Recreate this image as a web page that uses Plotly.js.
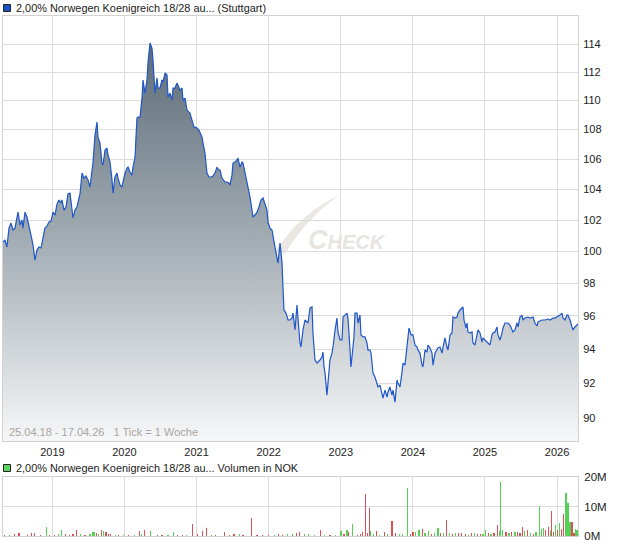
<!DOCTYPE html>
<html>
<head>
<meta charset="utf-8">
<script src="https://cdn.plot.ly/plotly-3.0.1.min.js"></script>
<style>html,body{margin:0;padding:0;background:#fff}#chart{width:620px;height:546px}</style>
</head>
<body>
<div id="chart"></div>
<script>
// ---- Data (decimal years) ----
const priceT = [2018.315,2018.343,2018.370,2018.398,2018.426,2018.454,2018.481,2018.509,2018.523,2018.551,2018.578,2018.592,2018.620,2018.648,2018.675,2018.689,2018.717,2018.731,2018.759,2018.786,2018.814,2018.842,2018.870,2018.897,2018.925,2018.953,2018.981,
2019.008,2019.036,2019.064,2019.092,2019.119,2019.133,2019.161,2019.189,2019.216,2019.244,2019.272,2019.286,2019.313,2019.341,2019.369,2019.383,2019.411,2019.438,2019.466,2019.494,2019.521,2019.549,2019.563,2019.591,2019.619,2019.632,2019.660,2019.688,2019.702,2019.730,2019.757,2019.771,2019.799,2019.827,2019.841,2019.868,2019.896,2019.910,2019.938,2019.965,2019.993,
2020.007,2020.035,2020.049,2020.076,2020.104,2020.118,2020.146,2020.173,2020.187,2020.215,2020.243,2020.257,2020.284,2020.312,2020.326,2020.354,2020.381,2020.395,2020.423,2020.451,2020.465,2020.492,2020.520,2020.534,2020.562,2020.590,2020.603,2020.631,2020.659,2020.673,2020.700,2020.728,2020.742,2020.770,2020.798,2020.811,2020.839,2020.867,2020.895,2020.908,2020.936,2020.964,2020.978,
2021.006,2021.033,2021.047,2021.075,2021.089,2021.116,2021.144,2021.172,2021.200,2021.227,2021.255,2021.283,2021.297,2021.325,2021.352,2021.380,2021.394,2021.422,2021.449,2021.463,2021.491,2021.505,2021.533,2021.560,2021.574,2021.602,2021.630,2021.644,2021.671,2021.699,2021.713,2021.741,2021.768,2021.782,2021.810,2021.838,2021.865,2021.893,2021.921,2021.949,2021.976,2021.990,
2022.018,2022.046,2022.060,2022.087,2022.115,2022.129,2022.157,2022.184,2022.198,2022.212,2022.240,2022.268,2022.295,2022.323,2022.337,2022.365,2022.392,2022.406,2022.434,2022.448,2022.476,2022.503,2022.531,2022.545,2022.573,2022.601,2022.614,2022.642,2022.670,2022.684,2022.711,2022.739,2022.753,2022.767,2022.781,2022.808,2022.822,2022.850,2022.878,2022.892,2022.920,2022.947,2022.961,2022.989,
2023.017,2023.031,2023.058,2023.086,2023.100,2023.114,2023.128,2023.141,2023.169,2023.183,2023.197,2023.225,2023.239,2023.252,2023.266,2023.280,2023.308,2023.336,2023.363,2023.377,2023.405,2023.419,2023.433,2023.447,2023.474,2023.502,2023.516,2023.544,2023.571,2023.585,2023.613,2023.641,2023.655,2023.682,2023.710,2023.724,2023.752,2023.780,2023.793,2023.821,2023.849,2023.863,2023.890,2023.918,2023.932,2023.946,2023.974,
2024.001,2024.029,2024.057,2024.071,2024.098,2024.126,2024.140,2024.168,2024.196,2024.210,2024.237,2024.265,2024.279,2024.307,2024.334,2024.348,2024.376,2024.404,2024.418,2024.445,2024.473,2024.487,2024.515,2024.542,2024.556,2024.584,2024.612,2024.626,2024.653,2024.681,2024.695,2024.709,2024.736,2024.750,2024.764,2024.792,2024.820,2024.834,2024.861,2024.889,2024.903,2024.931,2024.958,2024.972,
2025.000,2025.028,2025.042,2025.069,2025.097,2025.111,2025.139,2025.166,2025.180,2025.208,2025.236,2025.250,2025.277,2025.305,2025.319,2025.347,2025.375,2025.388,2025.416,2025.444,2025.458,2025.485,2025.513,2025.527,2025.555,2025.582,2025.596,2025.624,2025.666,2025.693,2025.721,2025.735,2025.763,2025.790,2025.832,2025.874,2025.902,2025.943,2025.971,2025.999,
2026.040,2026.068,2026.082,2026.110,2026.137,2026.151,2026.179,2026.207,2026.221,2026.248,2026.276,2026.290];

const price = [100.59,100.72,100.27,101.48,101.80,101.36,101.48,102.32,102.51,101.68,102.00,101.48,102.51,102.19,101.68,101.36,100.72,100.40,99.45,100.08,100.27,100.21,100.84,101.48,101.61,101.87,101.93,
102.51,102.32,103.03,103.30,103.10,103.30,102.64,102.84,103.69,103.75,102.45,102.13,102.64,102.84,103.43,103.69,105.07,104.74,104.87,104.61,104.15,105.14,105.74,107.63,108.52,107.49,107.08,105.74,105.61,106.61,106.75,106.28,105.81,104.61,103.75,104.81,105.07,104.74,104.28,104.15,104.74,
105.07,105.41,105.47,105.14,104.94,105.47,106.14,108.79,108.86,108.86,110.17,111.44,110.52,111.44,112.64,114.07,113.71,112.85,110.52,111.58,110.87,110.87,111.44,111.29,111.93,111.79,110.24,110.52,110.04,110.87,110.87,111.22,111.08,110.73,110.87,110.04,110.17,109.34,109.20,109.14,108.65,108.17,108.17,
108.11,107.97,107.76,107.49,107.08,106.41,105.07,104.81,104.81,104.87,105.07,105.47,105.34,105.27,104.74,104.61,104.48,104.48,104.41,104.28,104.94,105.74,105.81,105.94,106.07,105.47,105.81,105.74,105.14,104.48,104.15,103.49,102.64,102.19,102.32,102.51,102.84,103.30,103.43,102.97,102.64,101.87,
101.48,101.36,100.91,100.27,99.58,99.26,100.53,99.32,97.77,96.36,96.17,95.75,95.75,95.87,96.17,95.15,96.66,95.75,94.37,94.13,95.15,95.75,95.63,95.57,96.48,96.54,94.97,93.36,93.18,93.24,93.36,93.54,93.83,92.95,92.59,91.31,92.18,93.36,93.77,94.13,95.15,95.87,95.03,94.55,
94.55,95.93,96.05,96.17,95.87,94.37,93.95,92.95,94.13,94.73,96.17,96.17,95.57,95.75,96.05,94.85,94.73,94.73,94.37,93.95,93.95,93.77,92.95,92.59,92.36,92.01,91.78,91.89,91.43,91.14,91.60,91.20,91.49,91.78,91.31,91.60,90.91,92.18,92.01,91.78,92.65,93.18,93.06,94.13,94.67,95.27,94.85,
94.85,94.25,94.13,93.95,93.77,93.06,92.95,93.95,93.83,94.25,94.07,93.77,93.06,93.77,93.95,94.07,94.13,93.77,94.13,94.67,94.13,93.95,94.85,94.97,95.93,95.87,95.93,96.17,96.36,96.48,96.54,95.75,95.27,95.57,95.03,94.97,95.03,94.37,94.25,94.85,95.15,94.97,94.43,94.67,
94.55,94.37,94.37,94.25,94.85,94.97,95.03,95.33,94.85,94.55,94.97,95.27,95.57,95.57,95.57,95.45,95.15,95.03,95.15,95.57,95.33,95.93,96.05,95.75,95.87,95.93,95.93,95.87,95.93,95.57,95.39,95.63,95.69,95.75,95.75,95.81,95.75,95.87,95.87,95.93,
96.05,96.17,95.87,95.75,96.05,96.05,95.75,95.33,95.15,95.33,95.45,95.51];

const volT = [2018.339,2018.410,2018.476,2018.536,2018.657,2018.712,2018.756,2018.838,2018.920,2018.958,2019.030,2019.085,2019.123,2019.178,2019.233,2019.287,2019.331,2019.386,2019.452,2019.523,2019.562,2019.589,2019.616,2019.644,2019.682,2019.710,2019.742,2019.781,2019.808,2019.874,2019.918,2019.984,
2020.055,2020.137,2020.203,2020.236,2020.274,2020.356,2020.455,2020.521,2020.603,2020.685,2020.740,2020.806,2020.861,2020.943,2021.014,2021.080,2021.135,2021.206,2021.261,2021.387,2021.453,2021.519,2021.590,2021.645,2021.760,2021.837,2021.919,
2022.001,2022.083,2022.138,2022.193,2022.264,2022.330,2022.385,2022.429,2022.494,2022.549,2022.631,2022.714,2022.779,2022.851,2022.922,2023.004,2023.043,2023.086,2023.103,2023.163,2023.234,2023.273,2023.300,2023.339,2023.366,2023.393,2023.410,2023.454,2023.492,2023.536,2023.602,2023.646,2023.711,2023.755,2023.810,2023.854,2023.920,2023.964,
2024.002,2024.041,2024.084,2024.128,2024.167,2024.221,2024.260,2024.304,2024.347,2024.386,2024.424,2024.468,2024.512,2024.550,2024.589,2024.632,2024.676,2024.731,2024.769,2024.808,2024.852,2024.896,2024.934,2024.972,
2025.005,2025.044,2025.082,2025.126,2025.170,2025.197,2025.213,2025.246,2025.290,2025.334,2025.372,2025.416,2025.455,2025.487,2025.520,2025.553,2025.592,2025.630,2025.674,2025.707,2025.756,2025.784,2025.811,2025.838,2025.877,2025.904,2025.921,2025.948,2025.975,
2026.003,2026.030,2026.058,2026.085,2026.124,2026.151,2026.178,2026.206,2026.233,2026.250,2026.277];

// volume in millions NOK
const volM = [0.3,0.3,0.8,1.0,0.5,1.0,1.0,0.5,3.0,0.4,0.5,0.8,2.0,0.6,0.5,0.7,2.0,0.8,0.4,0.8,1.2,1.5,1.0,0.8,2.0,1.8,1.5,0.8,0.6,0.5,0.5,0.3,
0.4,0.4,1.6,0.6,2.0,1.7,0.4,0.3,0.3,1.2,0.5,0.5,0.4,4.1,0.8,1.8,2.7,0.4,0.5,1.2,0.4,0.8,0.7,0.5,6.1,0.4,0.3,
0.4,0.5,0.8,0.5,0.8,0.6,1.1,1.2,0.7,0.7,0.5,2.0,0.4,0.4,0.5,1.7,0.6,2.0,1.4,4.1,0.4,0.6,1.5,14.3,1.0,9.4,1.8,0.7,1.8,0.5,1.3,0.8,5.1,0.9,0.6,0.7,16.4,0.8,
1.5,1.2,2.0,2.3,1.0,1.8,0.8,1.0,2.6,0.9,1.0,5.4,1.0,0.8,1.0,0.9,1.0,0.7,0.5,0.9,1.0,0.8,0.6,0.8,
2.2,0.9,0.8,1.0,3.8,1.8,18.2,2.0,1.2,1.0,1.5,1.2,1.5,1.0,3.0,1.8,2.0,1.0,0.8,1.5,10.2,2.4,2.6,2.0,3.0,1.8,8.5,1.5,3.8,
2.0,4.3,2.5,7.3,14.5,11.2,4.6,4.8,1.0,2.4,1.9];

// 'u' = price up in that week (green), 'd' = down (red)
const volDir = ['d','u','d','d','d','d','d','d','u','d','d','u','u','d','d','d','d','u','d','u','u','u','d','u','d','u','d','d','d','u','d','u',
'd','u','d','u','d','u','d','d','u','u','d','d','u','d','d','d','d','u','d','d','d','d','u','d','d','d','d',
'd','u','d','d','u','u','d','d','u','u','u','d','u','d','u','u','d','u','d','u','d','d','d','d','d','d','u','u','d','u','d','u','d','d','u','u','u','d',
'd','u','u','d','u','u','d','u','u','d','u','d','u','d','u','d','d','d','u','d','u','d','d','u',
'u','d','u','d','d','u','u','u','d','u','d','u','d','d','d','u','d','u','d','u','u','u','u','d','d','u','d','d','u',
'd','u','d','d','u','u','u','d','d','u','u'];

const yearTicks = [2019,2020,2021,2022,2023,2024,2025,2026];
const yearLabels = ['2019','2020','2021','2022','2023','2024','2025','2026'];
const priceTicks = [90,92,94,96,98,100,102,104,106,108,110,112,114];
const volTicks = [0,10,20];
const volTickLabels = ['0M','10M','20M'];
const seriesName = '2,00% Norwegen Koenigreich 18/28 au...';

// ---- Styling ----
const W = 620, H = 546;
const GRID = '#dcdcdc';
const FRAME = '#d2d2d2';
const px = v => v / W;
const py = v => 1 - v / H;
const xDomain = [px(3), px(578)];

const baseT = [priceT[0], priceT[priceT.length - 1]];
const traces = [
  { x: baseT, y: [80, 80], type: 'scatter', mode: 'lines', line: { width: 0 }, hoverinfo: 'skip', showlegend: false, xaxis: 'x', yaxis: 'y' },
  { x: priceT, y: price, type: 'scatter', mode: 'lines', fill: 'tonexty',
    fillgradient: { type: 'vertical', start: 88.7, stop: 114.5,
      colorscale: [[0, '#f6f7f8'], [0.5, '#a2acb3'], [1, '#5b6a76']] },
    line: { color: '#1f56c8', width: 1.2 }, xaxis: 'x', yaxis: 'y', showlegend: false },
  { x: volT, y: volM, type: 'bar', width: 0.017,
    marker: { color: volDir.map(d => d === 'u' ? '#55d255' : '#dc5058'), line: { width: 0 } },
    xaxis: 'x2', yaxis: 'y2', showlegend: false }
];

const layout = {
  width: W, height: H,
  margin: { l: 0, r: 0, t: 0, b: 0 },
  paper_bgcolor: '#ffffff', plot_bgcolor: '#ffffff',
  font: { family: 'Liberation Sans, Arial, sans-serif', size: 11, color: '#222222' },
  showlegend: false,
  bargap: 0,
  xaxis: {
    domain: xDomain, anchor: 'y', range: [2018.315, 2026.29],
    tickmode: 'array', tickvals: yearTicks, ticktext: yearLabels,
    showgrid: true, gridcolor: GRID, gridwidth: 1, zeroline: false,
    showline: true, mirror: true, linecolor: FRAME, linewidth: 1,
    ticks: '', ticklabelstandoff: 1, tickfont: { size: 11, color: '#222' }
  },
  yaxis: {
    domain: [py(441), py(16)], anchor: 'x', type: 'log',
    range: [Math.log10(88.70), Math.log10(116.04)],
    side: 'right', tickmode: 'array', tickvals: priceTicks, ticktext: priceTicks.map(String),
    showgrid: true, gridcolor: GRID, gridwidth: 1, zeroline: false,
    showline: true, mirror: true, linecolor: FRAME, linewidth: 1,
    ticks: '', ticklabelstandoff: 2, tickfont: { size: 11, color: '#222' }
  },
  xaxis2: {
    domain: xDomain, anchor: 'y2', matches: 'x',
    tickmode: 'array', tickvals: yearTicks, showticklabels: false,
    showgrid: true, gridcolor: GRID, gridwidth: 1, zeroline: false,
    showline: true, mirror: true, linecolor: FRAME, linewidth: 1, ticks: ''
  },
  yaxis2: {
    domain: [py(536), py(477)], anchor: 'x2', range: [0, 20],
    side: 'right', tickmode: 'array', tickvals: volTicks, ticktext: volTickLabels,
    showgrid: true, gridcolor: GRID, gridwidth: 1, zeroline: false,
    showline: true, mirror: true, linecolor: FRAME, linewidth: 1,
    ticks: '', ticklabelstandoff: 3, tickfont: { size: 11.5, color: '#222' }
  },
  shapes: [
    // watermark swoosh
    { type: 'path', xref: 'paper', yref: 'paper', layer: 'below',
      path: `M ${px(276)} ${py(251)} Q ${px(300)} ${py(213)} ${px(340)} ${py(195)} Q ${px(306)} ${py(218)} ${px(285)} ${py(254)} Z`,
      fillcolor: '#ebe7e2', line: { width: 0 } },
    // legend squares
    { type: 'rect', xref: 'paper', yref: 'paper', x0: px(3.5), x1: px(10.5), y0: py(11.5), y1: py(4.5),
      fillcolor: '#1d4fc4', line: { color: '#222', width: 1 } },
    { type: 'rect', xref: 'paper', yref: 'paper', x0: px(3.5), x1: px(10.5), y0: py(471.5), y1: py(464.5),
      fillcolor: '#5cd35c', line: { color: '#222', width: 1 } }
  ],
  annotations: [
    { xref: 'paper', yref: 'paper', x: px(14), y: py(8), xanchor: 'left', yanchor: 'middle', showarrow: false,
      text: seriesName + ' (Stuttgart)', font: { size: 10.9, color: '#222' } },
    { xref: 'paper', yref: 'paper', x: px(14), y: py(468), xanchor: 'left', yanchor: 'middle', showarrow: false,
      text: seriesName + ' Volumen in NOK', font: { size: 10.9, color: '#222' } },
    { xref: 'paper', yref: 'paper', x: px(7), y: py(432), xanchor: 'left', yanchor: 'middle', showarrow: false,
      text: '25.04.18 - 17.04.26 &nbsp;&nbsp;1 Tick = 1 Woche', font: { size: 11, color: '#aaa59f' } },
    { xref: 'paper', yref: 'paper', x: px(306), y: py(240), xanchor: 'left', yanchor: 'middle', showarrow: false,
      text: '<b><i>C<span style="font-size:20px">HECK</span></i></b>', font: { size: 27, color: '#e8e4df' } }
  ]
};

Plotly.newPlot('chart', traces, layout, { staticPlot: true, displayModeBar: false });
</script>
</body>
</html>
